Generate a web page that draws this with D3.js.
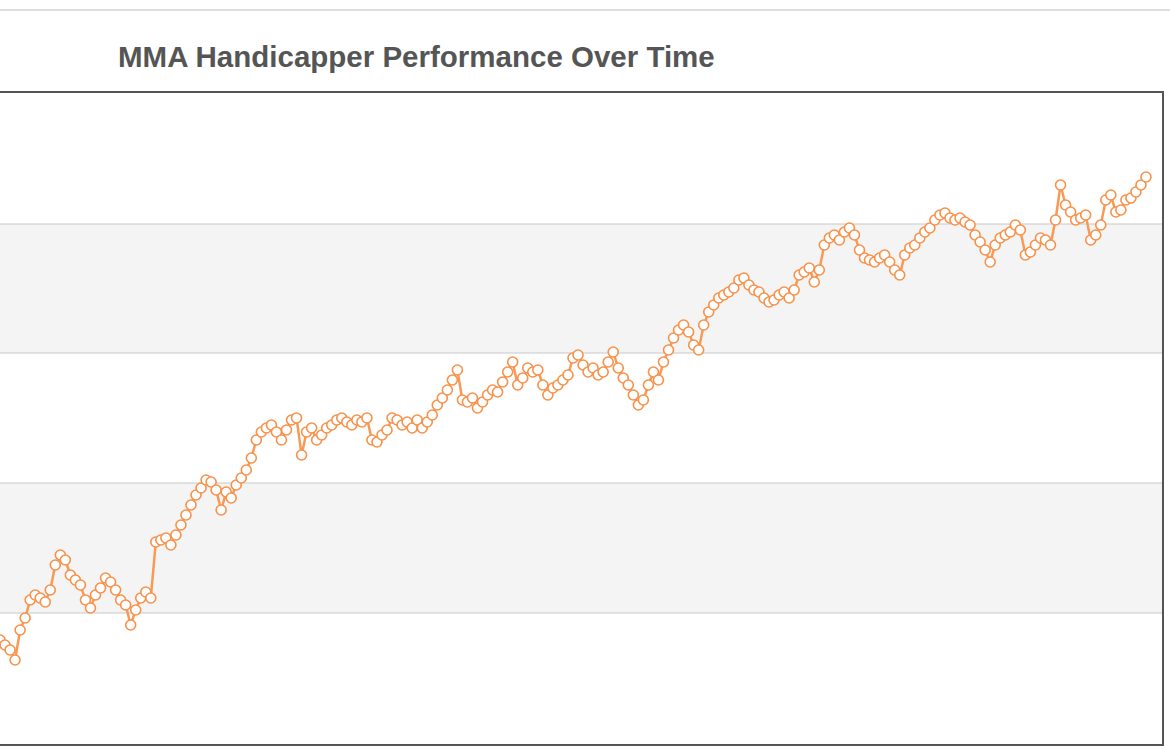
<!DOCTYPE html>
<html lang="en">
<head>
    <meta charset="UTF-8">
    <title>MMA Handicapper Performance Over Time</title>
    <script src="https://d3js.org/d3.v7.min.js"></script>
    <style>
        html, body { margin: 0; background: #fff; font-family: "Liberation Sans", Arial, sans-serif; }
    </style>
</head>
<body>
<svg id="vis" width="1170" height="749"></svg>
<script>
    // running units (labels are cut off in the reference)
    var units = [
        105,100,95,85,115,127, 145,150,147,143,155,180, 190,185,170,165,160,145,
        137,150,157,167,163,155, 145,140,120,135,147,153, 147,203,205,207,200,210,
        220,230,240,250,257,265, 263,255,235,253,247,260, 267,275,287,305,313,317,
        320,313,305,315,325,327, 290,313,317,305,310,317, 320,325,327,323,320,325,
        323,327,305,303,310,315, 327,325,320,323,317,325, 317,323,330,340,347,355,
        365,375,345,343,347,337, 343,350,355,353,363,373, 383,360,367,377,373,375,
        360,350,357,360,365,370, 387,390,380,373,377,370, 373,383,393,377,367,360,
        350,340,345,360,373,365, 383,395,407,415,420,413, 400,395,420,433,440,447,
        450,453,457,465,467,460, 455,453,447,443,445,450, 453,447,455,470,473,477,
        463,475,500,507,510,505, 513,517,510,495,487,485, 483,487,490,483,475,470,
        490,497,500,507,513,517, 525,530,532,527,525,527, 523,520,510,503,495,483,
        500,507,510,513,520,515, 490,493,500,507,505,500, 525,560,540,533,525,527,
        530,505,510,520,545,550, 533,535,545,547,553,560, 568
    ];
    var gridValues = [132, 262, 392, 521];
    var title = "MMA Handicapper Performance Over Time";

    var svg = d3.select("#vis");
    var plotLeft = -2, plotRight = 1163, plotTop = 92, plotBottom = 745;

    var x = d3.scaleLinear().domain([0, units.length - 1]).range([0, 1146]);
    var y = d3.scaleLinear().domain([0, 653]).range([plotBottom, plotTop]);

    // top rule of the page
    svg.append("line").attr("x1", 0).attr("x2", 1170).attr("y1", 10).attr("y2", 10)
        .attr("stroke", "#d4d4d4").attr("stroke-width", 1.5);

    svg.append("text").attr("x", 118).attr("y", 67).text(title)
        .attr("font-size", 29.5).attr("font-weight", "bold").attr("fill", "#555");

    // alternating bands
    var bounds = [0].concat(gridValues).concat([653]);
    for (var i = 0; i < bounds.length - 1; i++) {
        if (i % 2 == 1) {
            svg.append("rect").attr("x", plotLeft).attr("width", plotRight - plotLeft)
                .attr("y", y(bounds[i + 1])).attr("height", y(bounds[i]) - y(bounds[i + 1]))
                .attr("fill", "#f4f4f4");
        }
    }
    svg.selectAll(".grid").data(gridValues).enter().append("line")
        .attr("x1", plotLeft).attr("x2", plotRight)
        .attr("y1", function(d) { return y(d); }).attr("y2", function(d) { return y(d); })
        .attr("stroke", "#c8c8c8").attr("stroke-width", 1.2);

    var line = d3.line().x(function(d, i) { return x(i); }).y(function(d) { return y(d); });
    svg.append("path").datum(units).attr("d", line)
        .attr("fill", "none").attr("stroke", "#f89a55").attr("stroke-width", 2.5);

    svg.selectAll(".pt").data(units).enter().append("circle")
        .attr("cx", function(d, i) { return x(i); })
        .attr("cy", function(d) { return y(d); })
        .attr("r", 5).attr("fill", "#fff")
        .attr("stroke", "#f8914a").attr("stroke-width", 1.6);

    svg.append("rect").attr("x", plotLeft).attr("y", plotTop).attr("width", plotRight - plotLeft)
        .attr("height", plotBottom - plotTop).attr("fill", "none")
        .attr("stroke", "#555").attr("stroke-width", 2);
</script>
</body>
</html>
